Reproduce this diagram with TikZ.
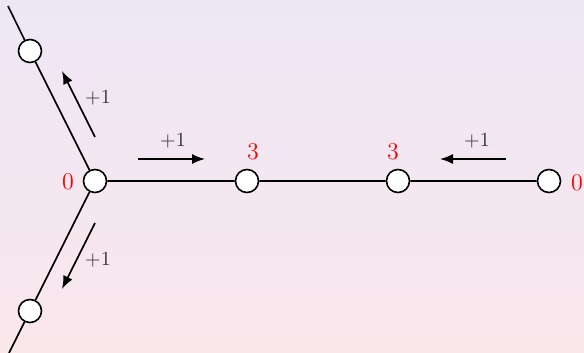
\documentclass[tikz,border=0pt]{standalone}
\usepackage{xcolor}
\usepackage{tikz}
\usetikzlibrary{calc,arrows.meta,positioning}

\definecolor{bgtop}{RGB}{237,231,245}
\definecolor{bgbot}{RGB}{250,231,236}

\tikzset{
  vertex/.style={circle,draw=black,fill=white,thick,minimum size=11.5pt,inner sep=0pt},
  edge/.style={draw=black,thick},
  flow/.style={draw=black,thick,-{Latex[length=6.5pt,width=5pt]}},
  count/.style={text=red,font=\large,inner sep=0pt},
  gain/.style={text=black!80,font=\normalsize,inner sep=0pt}
}

\begin{document}
\begin{tikzpicture}[x=0.5pt,y=-0.5pt]
  	  % background
  	  \shade[top color=bgtop,bottom color=bgbot] (0,0) rectangle (584,353);
  	  \useasboundingbox (0,0) rectangle (584,353);
	  % vertices
	  \node[vertex] (hub) at (95,181) {};
	  \node[vertex] (up) at (30,51) {};
	  \node[vertex] (down) at (30,311) {};
	  \node[vertex] (mid1) at (247,181) {};
	  \node[vertex] (mid2) at (398,181) {};
	  \node[vertex] (tail) at (549,181) {};
	  \coordinate (upend) at (8,6);
	  \coordinate (downend) at (9,353);
	  % edges
	  \path[edge] (upend) -- (up) -- (hub) -- (mid1) -- (mid2) -- (tail);
	  \path[edge] (hub) -- (down) -- (downend);
	  % counts
	  \node[count] (c0) at (68,182) {0};
	  \node[count] (c1) at (253,152) {3};
	  \node[count] (c2) at (393,152) {3};
	  \node[count] (c3) at (577,183) {0};
	  % moves
	  \coordinate (f1s) at (95,137); \coordinate (f1e) at (62,71);
	  \coordinate (f2s) at (95,223); \coordinate (f2e) at (62,289);
	  \coordinate (f3s) at (138,159); \coordinate (f3e) at (205,159);
	  \coordinate (f4s) at (506,159); \coordinate (f4e) at (440,159);
	  \path[flow] (f1s) -- (f1e);
	  \path[flow] (f2s) -- (f2e);
	  \path[flow] (f3s) -- (f3e);
	  \path[flow] (f4s) -- (f4e);
	  \node[gain] (g1) at (98,98) {$+1$};
	  \node[gain] (g2) at (98,260) {$+1$};
	  \node[gain] (g3) at (173,141) {$+1$};
	  \node[gain] (g4) at (477,141) {$+1$};
	\end{tikzpicture}
\end{document}
